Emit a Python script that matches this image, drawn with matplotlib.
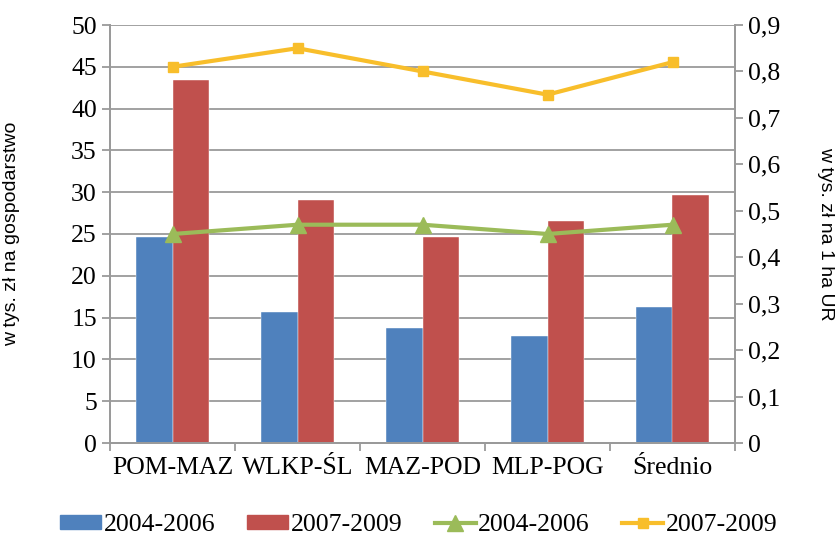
import matplotlib
matplotlib.use("Agg")
import matplotlib.pyplot as plt
import numpy as np
from matplotlib.lines import Line2D
from matplotlib.patches import Patch

categories = ["POM-MAZ", "WLKP-ŚL", "MAZ-POD", "MLP-POG", "Średnio"]
bars_2004_2006 = [24.7, 15.7, 13.8, 12.8, 16.3]
bars_2007_2009 = [43.4, 29.1, 24.6, 26.5, 29.7]
line_2004_2006 = [0.45, 0.47, 0.47, 0.45, 0.47]
line_2007_2009 = [0.81, 0.85, 0.80, 0.75, 0.82]
series_labels = ["2004-2006", "2007-2009", "2004-2006", "2007-2009"]
left_label = "w tys. zł na gospodarstwo"
right_label = "w tys. zł na 1 ha UR"

c_blue = "#4F81BD"
c_red = "#C0504D"
c_green = "#9BBB59"
c_yellow = "#F8BE2B"
grid_c = "#9A9A9A"
serif = ["Liberation Serif", "DejaVu Serif"]
sans = ["Liberation Sans", "DejaVu Sans"]
fs = 18.5

fig = plt.figure(figsize=(8.37, 5.52), dpi=100)
ax = fig.add_axes([110/837, 1-443/552, 625/837, 418/552])
x = np.arange(len(categories))
w = 0.29
ax.bar(x - w/2, bars_2004_2006, width=w, color=c_blue, zorder=2, edgecolor="white", linewidth=0.3)
ax.bar(x + w/2, bars_2007_2009, width=w, color=c_red, zorder=2, edgecolor="white", linewidth=0.3)
ax.set_xlim(-0.5, len(categories) - 0.5)
ax.set_ylim(0, 50)
ax.set_yticks(np.arange(0, 51, 5))
ax.yaxis.grid(True, color=grid_c, linewidth=1.3, zorder=0)
ax.set_axisbelow(True)
ax.set_xticks(x)
ax.set_xticklabels(categories, fontfamily=serif, fontsize=fs)
ax.set_xticks(np.arange(-0.5, len(categories), 1), minor=True)
ax.tick_params(axis="x", which="major", length=0, pad=10)
ax.tick_params(axis="x", which="minor", length=6, color=grid_c, width=1.3)
ax.tick_params(axis="y", length=6, color=grid_c, width=1.3, labelsize=fs)
for lbl in ax.get_yticklabels():
    lbl.set_fontfamily(serif)
ax.spines["top"].set_visible(False)
for s in ["left", "bottom", "right"]:
    ax.spines[s].set_color(grid_c)
    ax.spines[s].set_linewidth(1.3)
ax.set_ylabel(left_label, fontfamily=sans, fontsize=14)
ax.yaxis.set_label_coords((20-110)/625, 0.5)

ax2 = ax.twinx()
ax2.plot(x, line_2004_2006, color=c_green, linewidth=3, marker="^", markersize=11, zorder=3)
ax2.plot(x, line_2007_2009, color=c_yellow, linewidth=3, marker="s", markersize=7, zorder=3)
ax2.set_ylim(0, 0.9)
ax2.set_yticks(np.arange(0, 0.91, 0.1))
ax2.set_yticklabels([("%g" % round(v, 1)).replace(".", ",") for v in np.arange(0, 0.91, 0.1)],
                    fontfamily=serif, fontsize=fs)
ax2.tick_params(axis="y", length=6, color=grid_c, width=1.3)
ax2.spines["top"].set_visible(False)
for s in ["left", "bottom", "right"]:
    ax2.spines[s].set_color(grid_c)
    ax2.spines[s].set_linewidth(1.3)
ax2.set_ylabel(right_label, fontfamily=sans, fontsize=14, rotation=270, va="center")
ax2.yaxis.set_label_coords((826-110)/625, 0.5)

handles = [
    Patch(color=c_blue),
    Patch(color=c_red),
    Line2D([], [], color=c_green, linewidth=3, marker="^", markersize=11),
    Line2D([], [], color=c_yellow, linewidth=3, marker="s", markersize=7),
]
fig.legend(handles, series_labels, loc="center", bbox_to_anchor=(0.5, 1-525/552), ncol=4,
           frameon=False, prop={"family": serif, "size": fs}, handlelength=1.6,
           handleheight=0.5, handletextpad=0.1, columnspacing=1.25)

fig.savefig("out.png", dpi=100)
